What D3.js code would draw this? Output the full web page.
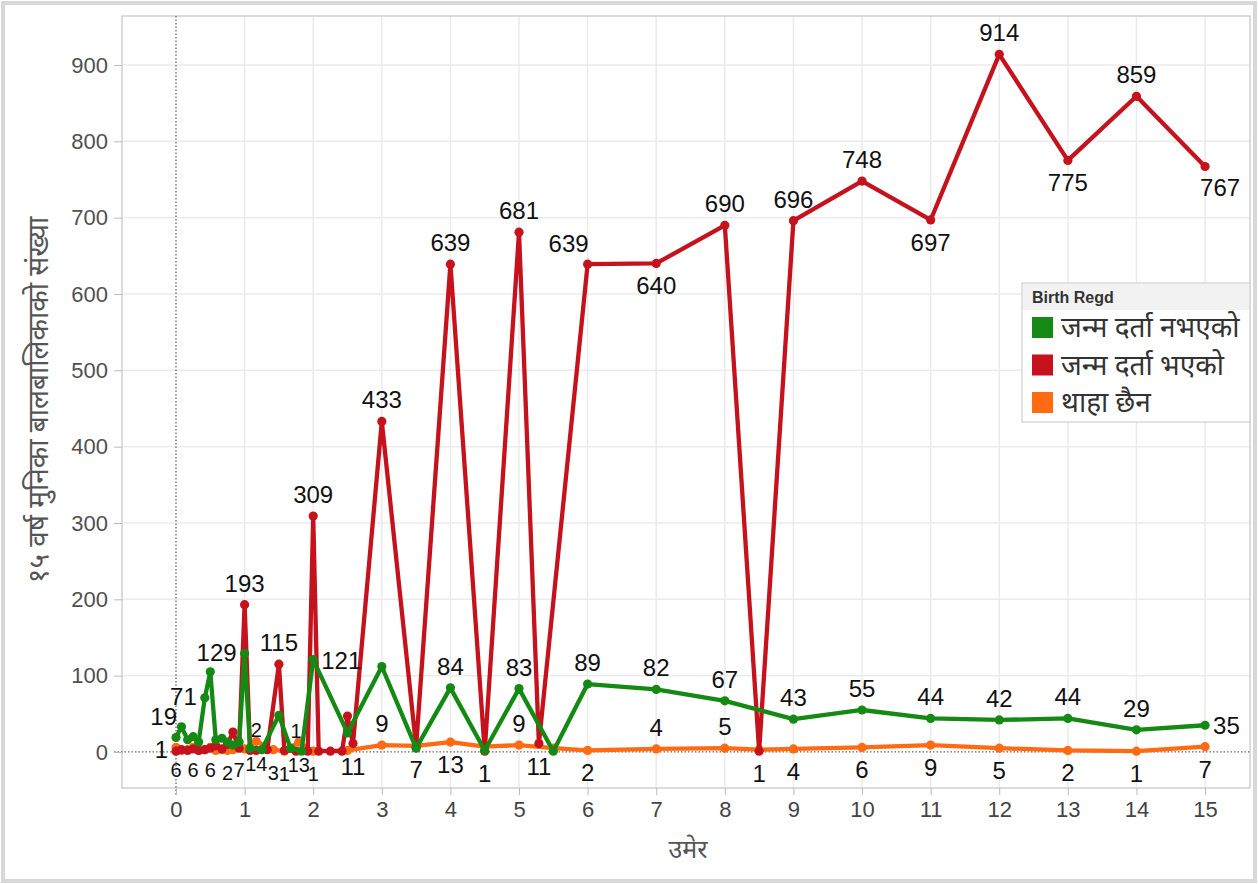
<!DOCTYPE html>
<html>
<head>
<meta charset="utf-8">
<script src="https://cdn.jsdelivr.net/npm/d3@7"></script>
<style>
  body { margin: 0; background: #fff; }
  text { font-family: "Liberation Sans", Arial, sans-serif; }
  .deva { font-family: "Noto Sans Devanagari", "Lohit Devanagari", "Noto Sans", sans-serif; }
</style>
</head>
<body>
<svg id="chart"></svg>
<script>
// ages (years) and counts
const greenAges = [0, 0.08, 0.17, 0.25, 0.33, 0.42, 0.5, 0.58, 0.67, 0.75, 0.83, 0.92, 1, 1.08, 1.25, 1.5, 1.67, 1.83, 2, 2.5, 3, 3.5, 4, 4.5, 5, 5.5, 6, 7, 8, 9, 10, 11, 12, 13, 14, 15];
const greenVals = [19, 33, 16, 20, 13, 71, 105, 16, 18, 13, 9, 13, 129, 5, 3, 48, 5, 1, 121, 25, 112, 5, 84, 2, 83, 1, 89, 82, 67, 43, 55, 44, 42, 44, 29, 35];

const redAges = [0, 0.08, 0.17, 0.25, 0.33, 0.42, 0.5, 0.58, 0.67, 0.75, 0.83, 0.92, 1, 1.08, 1.17, 1.33, 1.5, 1.58, 1.75, 1.92, 2, 2.08, 2.25, 2.42, 2.5, 2.58, 3, 3.5, 4, 4.5, 5, 5.29, 6, 7, 8, 8.5, 9, 10, 11, 12, 13, 14, 15];
const redVals = [1, 3, 2, 4, 2, 3, 5, 8, 4, 10, 26, 5, 193, 2, 2, 3, 115, 2, 1, 1, 309, 1, 1, 1, 47, 11, 433, 7, 639, 1, 681, 11, 639, 640, 690, 1, 696, 748, 697, 914, 775, 859, 767];

const orangeAges = [0, 0.08, 0.17, 0.25, 0.33, 0.42, 0.5, 0.58, 0.67, 0.75, 0.83, 0.92, 1, 1.17, 1.42, 1.58, 1.79, 2, 2.5, 3, 3.5, 4, 4.5, 5, 5.5, 6, 7, 8, 8.5, 9, 10, 11, 12, 13, 14, 15];
const orangeVals = [6, 2, 3, 6, 2, 3, 6, 2, 3, 2, 3, 7, 4, 14, 3, 1, 13, 1, 2, 9, 8, 13, 7, 9, 5, 2, 4, 5, 3, 4, 6, 9, 5, 2, 1, 7];

// which points carry a value label, and on which side ("bs" = below, small type)
const greenLabelAges = [0, 0.42, 1, 2, 4, 5, 6, 7, 8, 9, 10, 11, 12, 13, 14, 15];
const greenLabelSide = ["al", "l", "l", "r", "a", "a", "a", "a", "a", "a", "a", "a", "a", "a", "a", "r"];
const redLabelAges = [0, 1, 1.17, 1.5, 1.75, 2, 2.58, 3, 3.5, 4, 4.5, 5, 5.29, 6, 7, 8, 8.5, 9, 10, 11, 12, 13, 14, 15];
const redLabelSide = ["l", "a", "as", "a", "as", "a", "b", "a", "b", "a", "b", "a", "b", "al", "b", "a", "b", "a", "a", "b", "a", "b", "a", "br"];
const orangeLabelAges = [0, 0.25, 0.5, 0.75, 0.92, 1.17, 1.42, 1.58, 1.79, 2, 3, 4, 5, 6, 7, 8, 9, 10, 11, 12, 13, 14, 15];
const orangeLabelSide = ["bs", "bs", "bs", "bs", "bs", "bs", "bs", "bs", "bs", "bs", "a", "b", "a", "b", "a", "a", "b", "b", "b", "b", "b", "b", "b"];

const xTicks = d3.range(0, 16);
const yTicks = d3.range(0, 1000, 100);

const legendTitle = "Birth Regd";
const seriesNames = ["जन्म दर्ता नभएको", "जन्म दर्ता भएको", "थाहा छैन"];
const seriesColors = ["#148a14", "#c5121d", "#ff6a12"];
const xTitle = "उमेर";
const yTitle = "१५ वर्ष मुनिका बालबालिकाको संख्या";

const width = 1258, height = 884;
const plot = { left: 122, right: 1250, top: 16, bottom: 788 };

const svg = d3.select("#chart").attr("width", width).attr("height", height);

// outer frame
svg.append("rect")
  .attr("x", 3).attr("y", 3).attr("width", width - 6).attr("height", height - 6)
  .attr("fill", "none").attr("stroke", "#d8d8d8").attr("stroke-width", 4);

const x = d3.scaleLinear().domain([-0.787, 15.655]).range([plot.left, plot.right]);
const y = d3.scaleLinear().domain([-47.2, 964.2]).range([plot.bottom, plot.top]);

// grid
const grid = svg.append("g");
grid.selectAll("line.h").data(yTicks.filter(d => d !== 0)).join("line")
  .attr("x1", plot.left).attr("x2", plot.right)
  .attr("y1", d => y(d)).attr("y2", d => y(d))
  .attr("stroke", "#ebebeb").attr("stroke-width", 1.5);
grid.selectAll("line.v").data(xTicks.filter(d => d !== 0)).join("line")
  .attr("y1", plot.top).attr("y2", plot.bottom)
  .attr("x1", d => x(d)).attr("x2", d => x(d))
  .attr("stroke", "#ebebeb").attr("stroke-width", 1.5);

svg.append("rect")
  .attr("x", plot.left).attr("y", plot.top)
  .attr("width", plot.right - plot.left).attr("height", plot.bottom - plot.top)
  .attr("fill", "none").attr("stroke", "#d0d0d0").attr("stroke-width", 1.5);

// zero reference lines (dotted)
svg.append("line")
  .attr("x1", plot.left - 8).attr("x2", plot.right)
  .attr("y1", y(0)).attr("y2", y(0))
  .attr("stroke", "#666").attr("stroke-width", 1.3).attr("stroke-dasharray", "1.5,2");
svg.append("line")
  .attr("x1", x(0)).attr("x2", x(0))
  .attr("y1", plot.top).attr("y2", plot.bottom + 8)
  .attr("stroke", "#666").attr("stroke-width", 1.3).attr("stroke-dasharray", "1.5,2");

// axes
const yAxis = svg.append("g")
  .attr("transform", `translate(${plot.left},0)`)
  .call(d3.axisLeft(y).tickValues(yTicks).tickSize(8).tickPadding(6));
yAxis.select(".domain").remove();
yAxis.selectAll(".tick line").attr("stroke", "#bbb");
yAxis.selectAll(".tick text").attr("font-size", 22).attr("fill", "#505050")
  .attr("font-family", "Liberation Sans, Arial, sans-serif");

const xAxis = svg.append("g")
  .attr("transform", `translate(0,${plot.bottom})`)
  .call(d3.axisBottom(x).tickValues(xTicks).tickSize(7).tickPadding(6));
xAxis.select(".domain").remove();
xAxis.selectAll(".tick line").attr("stroke", "#bbb");
xAxis.selectAll(".tick text").attr("font-size", 22).attr("fill", "#444")
  .attr("font-family", "Liberation Sans, Arial, sans-serif");

svg.append("text").attr("class", "deva")
  .attr("x", 688).attr("y", 858)
  .attr("text-anchor", "middle").attr("font-size", 25).attr("fill", "#555")
  .text(xTitle);

svg.append("text").attr("class", "deva")
  .attr("transform", `translate(48,${400}) rotate(-90)`)
  .attr("text-anchor", "middle").attr("font-size", 28).attr("fill", "#555")
  .text(yTitle);

// series
const series = [
  { ages: orangeAges, vals: orangeVals, color: seriesColors[2], labelAges: orangeLabelAges, labelSide: orangeLabelSide },
  { ages: redAges, vals: redVals, color: seriesColors[1], labelAges: redLabelAges, labelSide: redLabelSide },
  { ages: greenAges, vals: greenVals, color: seriesColors[0], labelAges: greenLabelAges, labelSide: greenLabelSide }
];

const line = d3.line().x(d => x(d[0])).y(d => y(d[1]));

series.forEach(s => {
  const pts = s.ages.map((a, i) => [a, s.vals[i]]);
  const g = svg.append("g");
  g.append("path").datum(pts)
    .attr("d", line)
    .attr("fill", "none").attr("stroke", s.color)
    .attr("stroke-width", 4.3).attr("stroke-linejoin", "round");
  g.selectAll("circle").data(pts).join("circle")
    .attr("cx", d => x(d[0])).attr("cy", d => y(d[1]))
    .attr("r", 4.6).attr("fill", s.color);
});

// value labels drawn on top of every line: [dx, dy, anchor, font size]
const offsets = {
  a: [0, -13, "middle", 24], b: [0, 31, "middle", 24],
  as: [0, -13, "middle", 20], bs: [0, 30, "middle", 20],
  l: [-8, 7, "end", 24], r: [8, 9, "start", 24],
  al: [1, -12, "end", 24], br: [-5, 29, "start", 24]
};
series.forEach(s => {
  const lab = s.labelAges.map((a, i) => {
    const k = s.ages.indexOf(a);
    return { age: a, val: s.vals[k], side: s.labelSide[i] };
  });
  svg.append("g").selectAll("text").data(lab).join("text")
    .attr("x", d => x(d.age) + offsets[d.side][0])
    .attr("y", d => y(d.val) + offsets[d.side][1])
    .attr("text-anchor", d => offsets[d.side][2])
    .attr("font-size", d => offsets[d.side][3]).attr("fill", "#111")
    .text(d => d.val);
});

// legend
const lg = svg.append("g").attr("transform", "translate(1022,283)");
lg.append("rect").attr("width", 228).attr("height", 139)
  .attr("fill", "#fff").attr("stroke", "#cfcfcf").attr("stroke-width", 1.2);
lg.append("rect").attr("x", 1).attr("y", 1).attr("width", 226).attr("height", 26)
  .attr("fill", "#f2f2f2");
lg.append("text").attr("x", 10).attr("y", 20)
  .attr("font-size", 16).attr("font-weight", "bold").attr("fill", "#333")
  .text(legendTitle);
const items = lg.selectAll("g.item").data(seriesNames).join("g")
  .attr("transform", (d, i) => `translate(10,${45 + i * 37.5})`);
items.append("rect").attr("x", 0).attr("y", -11).attr("width", 21).attr("height", 21)
  .attr("fill", (d, i) => seriesColors[i]);
items.append("text").attr("class", "deva")
  .attr("x", 29).attr("y", 9)
  .attr("font-size", 28).attr("fill", "#333")
  .text(d => d);
</script>
</body>
</html>
